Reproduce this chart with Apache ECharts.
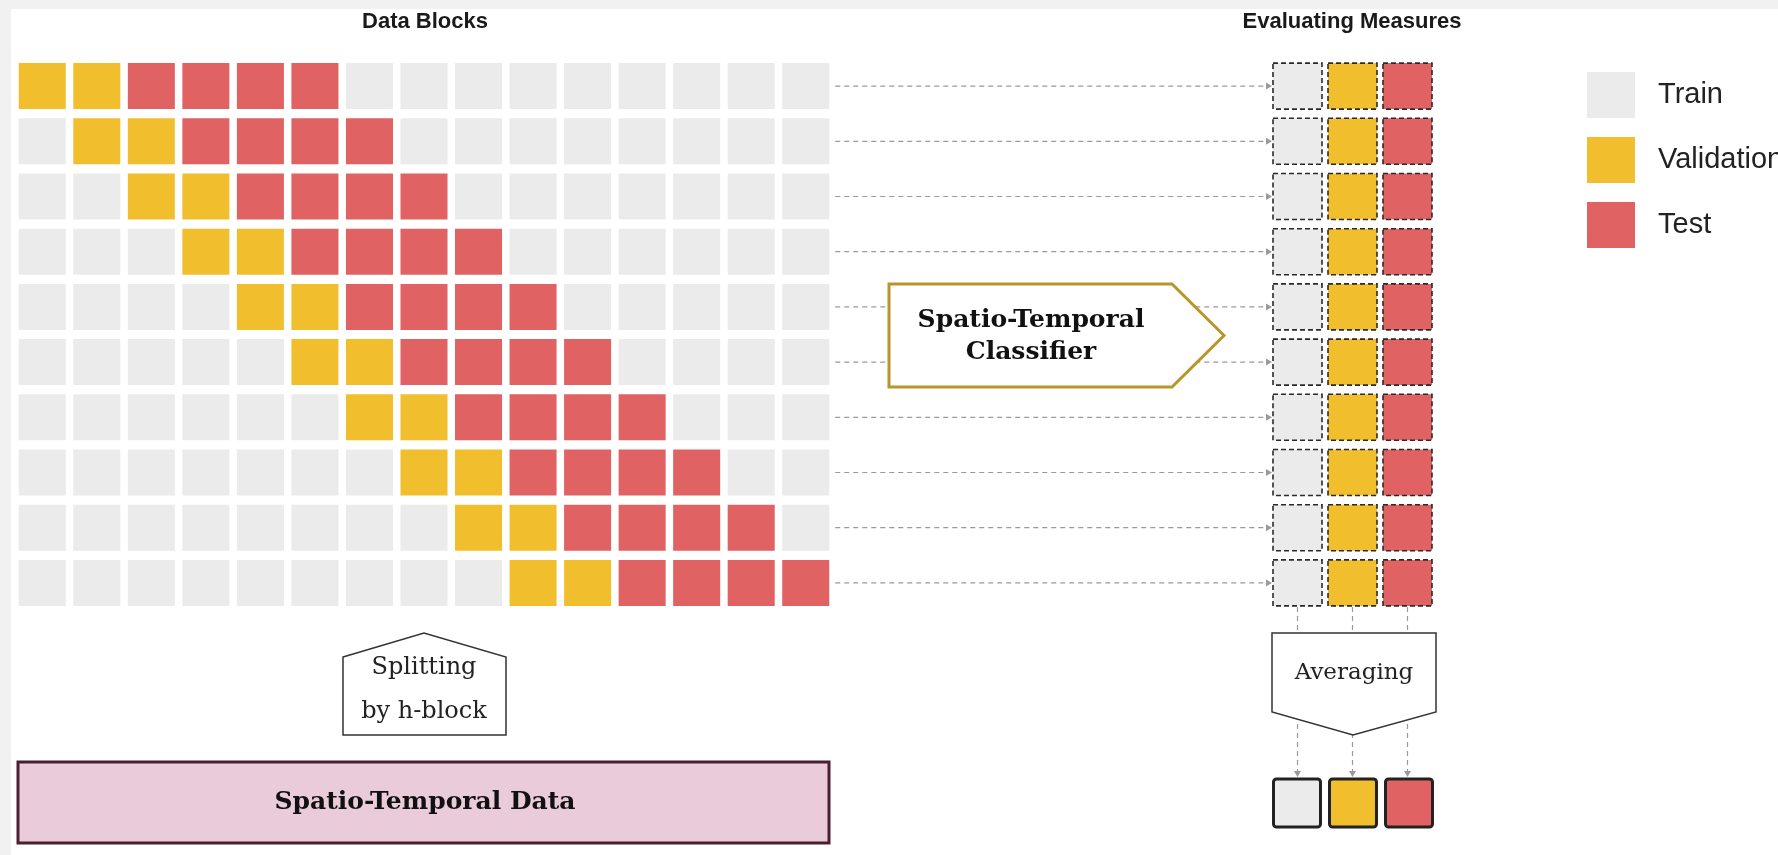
<!DOCTYPE html>
<html><head><meta charset="utf-8">
<script src="https://cdn.jsdelivr.net/npm/echarts@6/dist/echarts.min.js"></script>
<style>html,body{margin:0;padding:0;background:#f1f1f1;overflow:hidden}#c{width:1778px;height:855px}</style>
</head><body><div id="c"></div>
<script>
// ---- data ----
const blockColumns = ['B1','B2','B3','B4','B5','B6','B7','B8','B9','B10','B11','B12','B13','B14','B15'];
const splitRows = ['Split 1','Split 2','Split 3','Split 4','Split 5','Split 6','Split 7','Split 8','Split 9','Split 10'];
const roleNames = ['Train','Validation','Test'];
// role of each block per split: 0 = Train, 1 = Validation, 2 = Test
const splitRoles = [
  [1,1,2,2,2,2,0,0,0,0,0,0,0,0,0],
  [0,1,1,2,2,2,2,0,0,0,0,0,0,0,0],
  [0,0,1,1,2,2,2,2,0,0,0,0,0,0,0],
  [0,0,0,1,1,2,2,2,2,0,0,0,0,0,0],
  [0,0,0,0,1,1,2,2,2,2,0,0,0,0,0],
  [0,0,0,0,0,1,1,2,2,2,2,0,0,0,0],
  [0,0,0,0,0,0,1,1,2,2,2,2,0,0,0],
  [0,0,0,0,0,0,0,1,1,2,2,2,2,0,0],
  [0,0,0,0,0,0,0,0,1,1,2,2,2,2,0],
  [0,0,0,0,0,0,0,0,0,1,1,2,2,2,2]
];
const measureColumns = ['Train','Validation','Test'];
const averagedRow = ['Average'];
const titles = ['Data Blocks','Evaluating Measures'];
const boxLabels = ['Spatio-Temporal\nClassifier','Splitting\nby h-block','Averaging','Spatio-Temporal Data'];

// ---- styles ----
const roleColors = ['#ebebeb','#f1bf2e','#e06262'];
const SANS = '"Liberation Sans", Arial, sans-serif';
const SERIF = '"DejaVu Serif", "Liberation Serif", serif';

function cellRenderer(gx, gy, border) {
  return function (params, api) {
    const c = api.coord([api.value(0), api.value(1)]);
    const s = api.size([1, 1]);
    const w = s[0] - gx, h = s[1] - gy;
    const style = { fill: api.visual('color') };
    if (border) { style.stroke = border.color; style.lineWidth = border.width; if (border.dash) style.lineDash = border.dash; }
    return { type: 'rect', shape: { x: c[0] - w / 2, y: c[1] - h / 2, width: w, height: h, r: border && border.r ? border.r : 0 }, style: style };
  };
}

const series = [];
roleNames.forEach((name, r) => {
  const data = [];
  splitRoles.forEach((row, ri) => row.forEach((v, ci) => { if (v === r) data.push([ci, ri]); }));
  series.push({ type: 'custom', name: name, xAxisIndex: 0, yAxisIndex: 0, itemStyle: { color: roleColors[r] },
    renderItem: cellRenderer(7.5, 9.2, null), data: data, z: 2 });
});
roleNames.forEach((name, r) => {
  series.push({ type: 'custom', name: name, xAxisIndex: 1, yAxisIndex: 1, itemStyle: { color: roleColors[r] },
    renderItem: cellRenderer(6, 9.2, { color: '#2a2a2a', width: 1.6, dash: [5, 3] }),
    data: splitRows.map((s, ri) => [r, ri]), z: 2 });
});
roleNames.forEach((name, r) => {
  series.push({ type: 'custom', name: name, xAxisIndex: 2, yAxisIndex: 2, itemStyle: { color: roleColors[r] },
    renderItem: cellRenderer(9, 10, { color: '#222', width: 3, r: 3 }),
    data: [[r, 0]], z: 2 });
});

const chart = echarts.init(document.getElementById('c'), null, { renderer: 'canvas' });
chart.setOption({
  animation: false,
  backgroundColor: '#f1f1f1',
  grid: [
    { left: 15, top: 58.5, width: 818, height: 552 },
    { left: 1270, top: 58.5, width: 165, height: 552 },
    { left: 1269, top: 774, width: 168, height: 58 }
  ],
  xAxis: [
    { gridIndex: 0, type: 'category', data: blockColumns, show: false },
    { gridIndex: 1, type: 'category', data: measureColumns, show: false },
    { gridIndex: 2, type: 'category', data: measureColumns, show: false }
  ],
  yAxis: [
    { gridIndex: 0, type: 'category', data: splitRows, inverse: true, show: false },
    { gridIndex: 1, type: 'category', data: splitRows, inverse: true, show: false },
    { gridIndex: 2, type: 'category', data: averagedRow, show: false }
  ],
  legend: {
    data: roleNames, orient: 'vertical', left: 1587, top: 72, padding: 0,
    itemWidth: 48, itemHeight: 46, itemGap: 19, icon: 'rect', selectedMode: false,
    textStyle: { fontSize: 29, color: '#222', fontFamily: SANS, padding: [0, 0, 0, 18] }
  },
  series: series
});

// ---- annotations positioned from the axes ----
const px = (g, x, y) => chart.convertToPixel({ gridIndex: g }, [x, y]);
const mainRight = px(0, 14, 0)[0] + (818 / 15 - 7.5) / 2;
const evalLeft = px(1, 0, 0)[0] - (165 / 3 - 6) / 2;
const evalBottom = px(1, 0, 9)[1] + (55.2 - 9.2) / 2;
const outTop = px(2, 0, 0)[1] - (58 - 10) / 2;
const LINE = { stroke: '#9a9a9a', lineWidth: 1.2, lineDash: [5, 4] };
const graphics = [
  { type: 'rect', z: 0, shape: { x: 11, y: 9, width: 1767, height: 846 }, style: { fill: '#ffffff' }, silent: true }
];
splitRows.forEach((s, ri) => {
  const y = px(0, 0, ri)[1];
  graphics.push({ type: 'line', z: 3, shape: { x1: mainRight + 6, y1: y, x2: evalLeft - 6, y2: y }, style: LINE });
  graphics.push({ type: 'polygon', z: 3, shape: { points: [[evalLeft - 7, y - 3.5], [evalLeft - 1, y], [evalLeft - 7, y + 3.5]] }, style: { fill: '#9a9a9a' } });
});
measureColumns.forEach((m, ci) => {
  const x = px(1, ci, 0)[0];
  graphics.push({ type: 'line', z: 3, shape: { x1: x, y1: evalBottom + 1, x2: x, y2: outTop - 7 }, style: LINE });
  graphics.push({ type: 'polygon', z: 3, shape: { points: [[x - 3.5, outTop - 8], [x, outTop - 2], [x + 3.5, outTop - 8]] }, style: { fill: '#9a9a9a' } });
});
// titles
graphics.push({ type: 'text', z: 6, style: { text: titles[0], x: 425, y: 22, align: 'center', verticalAlign: 'middle', font: 'bold 22px ' + SANS, fill: '#1a1a1a' } });
graphics.push({ type: 'text', z: 6, style: { text: titles[1], x: 1352, y: 22, align: 'center', verticalAlign: 'middle', font: 'bold 22px ' + SANS, fill: '#1a1a1a' } });
// classifier
graphics.push({ type: 'polygon', z: 5, shape: { points: [[889, 284], [1172, 284], [1224, 335.5], [1172, 387], [889, 387]] }, style: { fill: '#fff', stroke: '#b8962c', lineWidth: 3 } });
graphics.push({ type: 'text', z: 6, style: { text: boxLabels[0], x: 1031, y: 336, align: 'center', verticalAlign: 'middle', font: 'bold 25px ' + SERIF, lineHeight: 32, fill: '#111' } });
// splitting
graphics.push({ type: 'polygon', z: 5, shape: { points: [[343, 657], [424, 633], [506, 657], [506, 735], [343, 735]] }, style: { fill: '#fff', stroke: '#333', lineWidth: 1.5 } });
graphics.push({ type: 'text', z: 6, style: { text: boxLabels[1], x: 424, y: 690, align: 'center', verticalAlign: 'middle', font: '24px ' + SERIF, lineHeight: 44, fill: '#222' } });
// averaging
graphics.push({ type: 'polygon', z: 5, shape: { points: [[1272, 633], [1436, 633], [1436, 712], [1353, 735], [1272, 712]] }, style: { fill: '#fff', stroke: '#333', lineWidth: 1.5 } });
graphics.push({ type: 'text', z: 6, style: { text: boxLabels[2], x: 1354, y: 673, align: 'center', verticalAlign: 'middle', font: '23px ' + SERIF, fill: '#222' } });
// data box
graphics.push({ type: 'rect', z: 5, shape: { x: 18, y: 762, width: 811, height: 81 }, style: { fill: '#e9cbd9', stroke: '#4a1f30', lineWidth: 3 } });
graphics.push({ type: 'text', z: 6, style: { text: boxLabels[3], x: 425, y: 802, align: 'center', verticalAlign: 'middle', font: 'bold 25px ' + SERIF, fill: '#111' } });

chart.setOption({ graphic: { elements: graphics } });
</script>
</body></html>
